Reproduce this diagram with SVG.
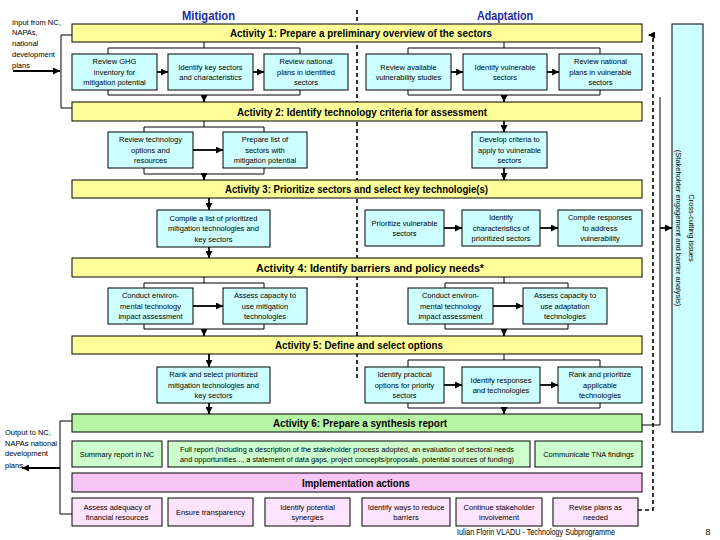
<svg xmlns="http://www.w3.org/2000/svg" width="720" height="540" viewBox="0 0 720 540">
<defs>
<marker id="ah" markerUnits="userSpaceOnUse" markerWidth="7" markerHeight="7" refX="7" refY="3.5" orient="auto"><path d="M0,0 L7,3.5 L0,7 z" fill="#000"/></marker>
<style>
.box{fill:#ccffff;stroke:#000;stroke-width:1}
.bar{fill:#ffff99;stroke:#000;stroke-width:1}
.gbar{fill:#b6f5a6;stroke:#000;stroke-width:1}
.gbox{fill:#ccffcc;stroke:#000;stroke-width:1}
.pbar{fill:#f7c6f7;stroke:#000;stroke-width:1}
.pbox{fill:#ffe4ff;stroke:#000;stroke-width:1}
.t{font-family:"Liberation Sans",Arial,sans-serif;font-size:7.5px;text-anchor:middle;fill:#000}
.tl{font-family:"Liberation Sans",Arial,sans-serif;font-size:7.5px;fill:#000}
.bt{font-family:"Liberation Sans",Arial,sans-serif;font-size:11px;font-weight:bold;text-anchor:middle;fill:#000}
.hd{font-family:"Liberation Sans",Arial,sans-serif;font-size:13px;font-weight:bold;text-anchor:middle;fill:#1c2a9c}
.ln{fill:none;stroke:#000;stroke-width:1}
.ar{fill:none;stroke:#000;stroke-width:1.8;marker-end:url(#ah)}
.ds{fill:none;stroke:#000;stroke-width:1.6;stroke-dasharray:4,3}
</style>
</defs>
<rect width="720" height="540" fill="#fff"/>

<g id="headings">
<text class="hd" x="208.5" y="20" textLength="53" lengthAdjust="spacingAndGlyphs">Mitigation</text>
<text class="hd" x="505" y="20" textLength="56" lengthAdjust="spacingAndGlyphs">Adaptation</text>
</g>

<g id="connectors">
<path class="ds" d="M357,10 V380"/>
<path class="ds" d="M638,510 H653 V35 H648" style="marker-end:url(#ah)"/>
<path class="ln" d="M72,35 H61 V108 H72"/>
<path class="ar" d="M13,71 H60"/>
<path class="ln" d="M72,421 H60 V514 H72"/>
<path class="ar" d="M60,468 H22"/>
<path class="ln" d="M642,425 H660 V97"/>
<path class="ar" d="M660,228 H672"/>
<!-- Activity 1 -->
<path class="ln" d="M204,42 V48 M108,54 V48 H300 V54 M108,90 V95 H300 V90"/>
<path class="ar" d="M204,95 V102"/>
<path class="ln" d="M504,42 V48 M408,54 V48 H600 V54 M408,90 V95 H600 V90"/>
<path class="ar" d="M504,95 V102"/>
<path class="ar" d="M157,72 H168"/>
<path class="ar" d="M253,72 H264"/>
<path class="ar" d="M451,72 H463"/>
<path class="ar" d="M547,72 H559"/>
<!-- Activity 2 -->
<path class="ln" d="M204,121 V127 M144,132 V127 H264 V132 M144,168 V174 H264 V168"/>
<path class="ar" d="M204,174 V180"/>
<path class="ar" d="M193,150 H223"/>
<path class="ar" d="M504,121 V132"/>
<path class="ar" d="M504,168 V180"/>
<!-- Activity 3 -->
<path class="ar" d="M209,198 V210"/>
<path class="ar" d="M209,247 V258"/>
<path class="ar" d="M444,228 H462"/>
<path class="ar" d="M540,228 H558"/>
<!-- Activity 4 -->
<path class="ln" d="M204,277 V283 M144,288 V283 H264 V288 M144,324 V329 H264 V324"/>
<path class="ar" d="M204,329 V336"/>
<path class="ar" d="M193,306 H223"/>
<path class="ln" d="M504,277 V283 M445,288 V283 H568 V288 M445,324 V329 H568 V324"/>
<path class="ar" d="M504,329 V336"/>
<path class="ar" d="M493,306 H523"/>
<!-- Activity 5 -->
<path class="ar" d="M209,354 V367"/>
<path class="ar" d="M209,403 V414"/>
<path class="ln" d="M504,354 V360 M408,367 V360 H600 V367 M408,403 V408 H600 V403"/>
<path class="ar" d="M504,408 V414"/>
<path class="ar" d="M444,385 H462"/>
<path class="ar" d="M540,385 H558"/>
</g>

<g id="input-text">
<text class="tl" x="12" y="24.7">Input from NC,</text>
<text class="tl" x="12" y="35.4">NAPAs,</text>
<text class="tl" x="12" y="46.1">national</text>
<text class="tl" x="12" y="56.8">development</text>
<text class="tl" x="12" y="67.5">plans</text>
</g>
<g id="output-text">
<text class="tl" x="5" y="434.5">Output to NC,</text>
<text class="tl" x="5" y="445.5">NAPAs national</text>
<text class="tl" x="5" y="456">development</text>
<text class="tl" x="5" y="468">plans</text>
</g>

<g id="activity1"><rect class="bar" x="72" y="24" width="570" height="18"/><text class="bt" x="361" y="37" textLength="262" lengthAdjust="spacingAndGlyphs">Activity 1: Prepare a preliminary overview of the sectors</text></g>
<g id="n-review-ghg"><rect class="box" x="72" y="54" width="85" height="36"/><text class="t" x="114.5" y="64.2">Review GHG</text><text class="t" x="114.5" y="74.7">inventory for</text><text class="t" x="114.5" y="85.2">mitigation potential</text></g>
<g id="n-key-sectors"><rect class="box" x="168" y="54" width="85" height="36"/><text class="t" x="210.5" y="69.5">Identify key sectors</text><text class="t" x="210.5" y="80">and characteristics</text></g>
<g id="n-review-plans-m"><rect class="box" x="264" y="54" width="84" height="36"/><text class="t" x="306" y="64.2">Review national</text><text class="t" x="306" y="74.7">plans in identified</text><text class="t" x="306" y="85.2">sectors</text></g>
<g id="n-vuln-studies"><rect class="box" x="366" y="54" width="85" height="36"/><text class="t" x="408.5" y="69.5">Review available</text><text class="t" x="408.5" y="80">vulnerability studies</text></g>
<g id="n-vuln-sectors"><rect class="box" x="463" y="54" width="84" height="36"/><text class="t" x="505" y="69.5">Identify vulnerable</text><text class="t" x="505" y="80">sectors</text></g>
<g id="n-review-plans-a"><rect class="box" x="559" y="54" width="83" height="36"/><text class="t" x="600.5" y="64.2">Review national</text><text class="t" x="600.5" y="74.7">plans in vulnerable</text><text class="t" x="600.5" y="85.2">sectors</text></g>

<g id="activity2"><rect class="bar" x="72" y="102" width="570" height="19"/><text class="bt" x="362" y="115.5" textLength="250" lengthAdjust="spacingAndGlyphs">Activity 2: Identify technology criteria for assessment</text></g>
<g id="n-review-tech"><rect class="box" x="108" y="132" width="85" height="36"/><text class="t" x="150.5" y="142.2">Review technology</text><text class="t" x="150.5" y="152.7">options and</text><text class="t" x="150.5" y="163.2">resources</text></g>
<g id="n-prepare-list"><rect class="box" x="223" y="132" width="84" height="36"/><text class="t" x="265" y="142.2">Prepare list of</text><text class="t" x="265" y="152.7">sectors with</text><text class="t" x="265" y="163.2">mitigation potential</text></g>
<g id="n-develop-criteria"><rect class="box" x="472" y="132" width="75" height="36"/><text class="t" x="509.5" y="142.2">Develop criteria to</text><text class="t" x="509.5" y="152.7">apply to vulnerable</text><text class="t" x="509.5" y="163.2">sectors</text></g>

<g id="activity3"><rect class="bar" x="72" y="180" width="570" height="18"/><text class="bt" x="356.5" y="193" textLength="263" lengthAdjust="spacingAndGlyphs">Activity 3: Prioritize sectors and select key technologie(s)</text></g>
<g id="n-compile-list"><rect class="box" x="157" y="210" width="113" height="37"/><text class="t" x="213.5" y="220.7">Compile a list of prioritized</text><text class="t" x="213.5" y="231.2">mitigation technologies and</text><text class="t" x="213.5" y="241.7">key sectors</text></g>
<g id="n-prioritize-vuln"><rect class="box" x="365" y="210" width="79" height="36"/><text class="t" x="404.5" y="225.5">Prioritize vulnerable</text><text class="t" x="404.5" y="236">sectors</text></g>
<g id="n-characteristics"><rect class="box" x="462" y="210" width="78" height="36"/><text class="t" x="501" y="220.2">Identify</text><text class="t" x="501" y="230.7">characteristics of</text><text class="t" x="501" y="241.2">prioritized sectors</text></g>
<g id="n-compile-resp"><rect class="box" x="558" y="210" width="84" height="36"/><text class="t" x="600" y="220.2">Compile responses</text><text class="t" x="600" y="230.7">to address</text><text class="t" x="600" y="241.2">vulnerability</text></g>

<g id="activity4"><rect class="bar" x="72" y="258" width="570" height="19"/><text class="bt" x="370" y="271.5" textLength="228" lengthAdjust="spacingAndGlyphs">Activity 4: Identify barriers and policy needs*</text></g>
<g id="n-eia-m"><rect class="box" x="108" y="288" width="85" height="36"/><text class="t" x="150.5" y="298.2">Conduct environ-</text><text class="t" x="150.5" y="308.7">mental technology</text><text class="t" x="150.5" y="319.2">impact assessment</text></g>
<g id="n-capacity-m"><rect class="box" x="223" y="288" width="84" height="36"/><text class="t" x="265" y="298.2">Assess capacity to</text><text class="t" x="265" y="308.7">use mitigation</text><text class="t" x="265" y="319.2">technologies</text></g>
<g id="n-eia-a"><rect class="box" x="408" y="288" width="85" height="36"/><text class="t" x="450.5" y="298.2">Conduct environ-</text><text class="t" x="450.5" y="308.7">mental technology</text><text class="t" x="450.5" y="319.2">impact assessment</text></g>
<g id="n-capacity-a"><rect class="box" x="523" y="288" width="84" height="36"/><text class="t" x="565" y="298.2">Assess capacity to</text><text class="t" x="565" y="308.7">use adaptation</text><text class="t" x="565" y="319.2">technologies</text></g>

<g id="activity5"><rect class="bar" x="72" y="336" width="570" height="18"/><text class="bt" x="359" y="349" textLength="168" lengthAdjust="spacingAndGlyphs">Activity 5: Define and select options</text></g>
<g id="n-rank-select"><rect class="box" x="157" y="367" width="113" height="36"/><text class="t" x="213.5" y="377.2">Rank and select prioritized</text><text class="t" x="213.5" y="387.7">mitigation technologies and</text><text class="t" x="213.5" y="398.2">key sectors</text></g>
<g id="n-practical"><rect class="box" x="365" y="367" width="79" height="36"/><text class="t" x="404.5" y="377.2">Identify practical</text><text class="t" x="404.5" y="387.7">options for priority</text><text class="t" x="404.5" y="398.2">sectors</text></g>
<g id="n-responses"><rect class="box" x="462" y="367" width="78" height="36"/><text class="t" x="501" y="382.5">Identify responses</text><text class="t" x="501" y="393">and technologies</text></g>
<g id="n-rank-prioritize"><rect class="box" x="558" y="367" width="84" height="36"/><text class="t" x="600" y="377.2">Rank and prioritize</text><text class="t" x="600" y="387.7">applicable</text><text class="t" x="600" y="398.2">technologies</text></g>

<g id="activity6"><rect class="gbar" x="72" y="414" width="570" height="18"/><text class="bt" x="360" y="427" textLength="174" lengthAdjust="spacingAndGlyphs">Activity 6: Prepare a synthesis report</text></g>
<g id="n-summary"><rect class="gbox" x="72" y="441" width="90" height="26"/><text class="t" x="117" y="456.7">Summary report in NC</text></g>
<g id="n-full-report"><rect class="gbox" x="168" y="441" width="362" height="26"/><text class="t" x="347" y="451.5" textLength="334" lengthAdjust="spacingAndGlyphs">Full report (including a description of the stakeholder process adopted, an evaluation of sectoral needs</text><text class="t" x="347" y="462" textLength="334" lengthAdjust="spacingAndGlyphs">and opportunities..., a statement of data gaps, project concepts/proposals, potential sources of funding)</text></g>
<g id="n-communicate"><rect class="gbox" x="535" y="441" width="107" height="26"/><text class="t" x="588.5" y="456.7">Communicate TNA findings</text></g>

<g id="implementation"><rect class="pbar" x="72" y="473" width="570" height="19"/><text class="bt" x="356" y="486.5" textLength="108" lengthAdjust="spacingAndGlyphs">Implementation actions</text></g>
<g id="n-adequacy"><rect class="pbox" x="72" y="498" width="90" height="28"/><text class="t" x="117" y="509.5">Assess adequacy of</text><text class="t" x="117" y="520">financial resources</text></g>
<g id="n-transparency"><rect class="pbox" x="168" y="498" width="85" height="28"/><text class="t" x="210.5" y="514.7">Ensure transparency</text></g>
<g id="n-synergies"><rect class="pbox" x="265" y="498" width="85" height="28"/><text class="t" x="307.5" y="509.5">Identify potential</text><text class="t" x="307.5" y="520">synergies</text></g>
<g id="n-barriers"><rect class="pbox" x="362" y="498" width="88" height="28"/><text class="t" x="406" y="509.5">Identify ways to reduce</text><text class="t" x="406" y="520">barriers</text></g>
<g id="n-stakeholder"><rect class="pbox" x="456" y="498" width="86" height="28"/><text class="t" x="499" y="509.5">Continue stakeholder</text><text class="t" x="499" y="520">involvement</text></g>
<g id="n-revise"><rect class="pbox" x="553" y="498" width="85" height="28"/><text class="t" x="595.5" y="509.5">Revise plans as</text><text class="t" x="595.5" y="520">needed</text></g>

<g id="n-cross-cutting"><rect class="box" x="672" y="24" width="31" height="408"/>
<g transform="translate(686,228) rotate(90)"><text class="t" x="0" y="-3.3">Cross-cutting issues</text><text class="t" x="0" y="9.7">(Stakeholder engagement and barrier analysis)</text></g></g>

<g id="footer">
<text x="536" y="535" font-family="'Liberation Sans',Arial,sans-serif" font-size="9" text-anchor="middle" textLength="158" lengthAdjust="spacingAndGlyphs">Iulian Florin VLADU - Technology Subprogramme</text>
<text x="708" y="535" font-family="'Liberation Sans',Arial,sans-serif" font-size="9" text-anchor="middle">8</text>
</g>
</svg>
